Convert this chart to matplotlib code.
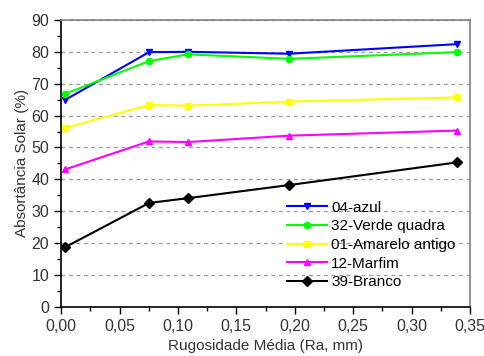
import numpy as np
import matplotlib
matplotlib.use("Agg")
import matplotlib.pyplot as plt
from matplotlib.ticker import MultipleLocator, FuncFormatter

plt.rcParams['font.family'] = ['Liberation Sans', 'DejaVu Sans']

rugosidade = [0.0034, 0.0753, 0.1087, 0.195, 0.3386]
azul = [64.9, 79.9, 80.0, 79.4, 82.4]
verde = [66.8, 77.1, 79.2, 77.8, 79.9]
amarelo = [56.1, 63.3, 63.1, 64.4, 65.7]
marfim = [43.1, 51.9, 51.7, 53.7, 55.3]
branco = [18.7, 32.6, 34.1, 38.2, 45.3]

series = [
    ("04-azul", azul, "#0000ff", "v"),
    ("32-Verde quadra", verde, "#00ff00", "o"),
    ("01-Amarelo antigo", amarelo, "#ffff00", "s"),
    ("12-Marfim", marfim, "#ff00ff", "^"),
    ("39-Branco", branco, "black", "D"),
]

fig = plt.figure(figsize=(4.85, 3.56), dpi=100)
ax = fig.add_axes([0.126, 0.138, 0.843, 0.806])

for label, vals, cor, mk in series:
    ax.plot(rugosidade, vals, color=cor, marker=mk, markersize=5 if mk != "o" else 4.5,
            linewidth=1.5, label=label)

ax.set_xlim(0, 0.35)
ax.set_ylim(0, 90)
ax.xaxis.set_major_locator(MultipleLocator(0.05))
ax.xaxis.set_minor_locator(MultipleLocator(0.025))
ax.yaxis.set_major_locator(MultipleLocator(10))
ax.yaxis.set_minor_locator(MultipleLocator(5))
ax.xaxis.set_major_formatter(FuncFormatter(lambda v, p: f"{v:.2f}".replace(".", ",")))

ax.grid(axis="y", which="major", linestyle=(0, (3, 3)), color="#999999", linewidth=0.9)
ax.set_axisbelow(True)

for s in ["top", "right"]:
    ax.spines[s].set_color("#808080")
    ax.spines[s].set_linewidth(1.2)
for s in ["left", "bottom"]:
    ax.spines[s].set_linewidth(1.2)

ax.tick_params(which="both", direction="out", top=False, right=False, labelsize=11.5,
               labelcolor="#333333")
ax.tick_params(which="major", length=5, width=1)
ax.tick_params(which="minor", length=3, width=1)

ax.set_xlabel("Rugosidade Média (Ra, mm)", fontsize=11, color="#333333", labelpad=4)
ax.set_ylabel("Absortância Solar (%)", fontsize=11, color="#333333", labelpad=2)

ax.legend(loc="lower right", bbox_to_anchor=(0.987, 0.03), frameon=False, fontsize=11,
          handlelength=2.6, handletextpad=0.3, labelspacing=0.3, borderaxespad=0.2)

fig.savefig("out.png", dpi=100)
